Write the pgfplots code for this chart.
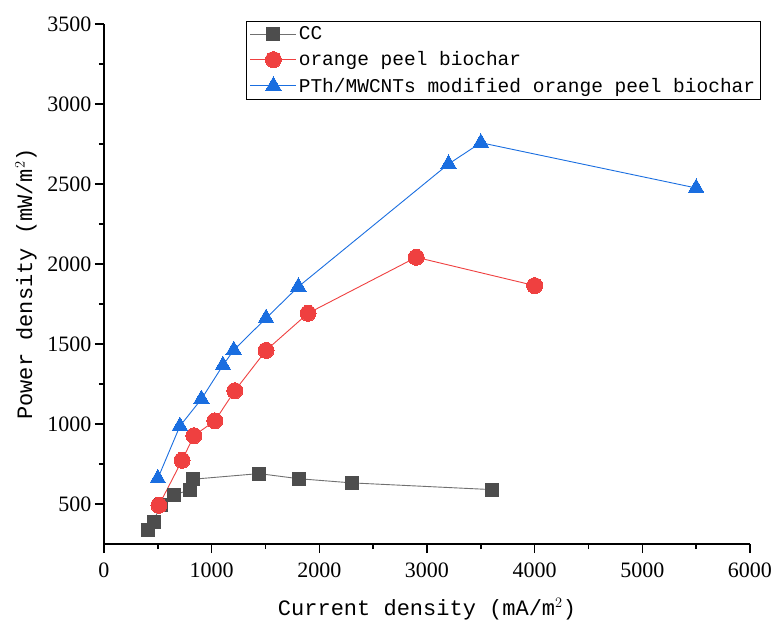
\documentclass[border=0pt]{standalone}
\usepackage{pgfplots}
\pgfplotsset{compat=1.18}
\usepackage{fontspec}
\setmainfont{Liberation Serif}
\newfontfamily\monofont{Liberation Mono}
\definecolor{ccgray}{HTML}{4D4D4D}
\definecolor{ccline}{HTML}{707070}
\definecolor{opred}{HTML}{EF4040}
\definecolor{ptblue}{HTML}{1A6EE0}
\begin{document}
\begin{tikzpicture}
\useasboundingbox (-104pt,-78pt) rectangle (668pt,544pt);
\begin{axis}[
  at={(0pt,0pt)}, anchor=south west,
  scale only axis,
  width=646pt, height=520pt,
  xmin=0, xmax=6000, ymin=250, ymax=3500,
  axis x line=bottom, axis y line=left,
  axis line style={-, line width=1.6pt},
  xtick={0,1000,...,6000},
  ytick={500,1000,...,3500},
  minor x tick num=1, minor y tick num=1,
  tick align=outside,
  major tick length=9pt, minor tick length=5pt,
  every tick/.style={line width=1.4pt, black},
  /pgf/number format/1000 sep={},
  /pgf/number format/assume math mode=true,
  ticklabel style={font=\fontsize{22}{24}\selectfont},
  xticklabel style={yshift=-6pt},
  xlabel={\monofont Current density (mA/m$^2$)},
  ylabel={\monofont Power density (mW/m$^2$)},
  label style={font=\fontsize{22}{24}\selectfont},
  xlabel style={yshift=-14pt},
  ylabel style={yshift=4pt},
  legend style={at={(rel axis cs:0.22,1.006)}, anchor=north west,
    font=\monofont\fontsize{19.5}{21}\selectfont, draw=black, line width=0.8pt,
    row sep=6.5pt, inner sep=3.5pt},
  legend cell align=left,
  legend image code/.code={%
    \draw[mark repeat=2, mark phase=2, line width=0.8pt]
      plot coordinates {(0pt,0pt)(23pt,0pt)(46pt,0pt)};},
]
\addplot[color=ccline, line width=0.9pt, mark=square*, mark size=6.5pt,
  mark options={fill=ccgray, draw=ccgray, line width=0pt}]
  coordinates {(410,340)(460,390)(525,495)(650,555)(800,590)(830,655)(1440,690)(1810,658)(2300,632)(3600,590)};
\addlegendentry{CC}
\addplot[color=opred, line width=0.9pt, mark=*, mark size=8pt,
  mark options={fill=opred, draw=opred, line width=0pt}]
  coordinates {(510,492)(725,773)(835,927)(1030,1020)(1215,1208)(1505,1460)(1895,1692)(2900,2042)(4000,1865)};
\addlegendentry{orange peel biochar}
\addplot[color=ptblue, line width=0.9pt, mark=triangle*, mark size=9pt,
  mark options={fill=ptblue, draw=ptblue, line width=0pt}]
  coordinates {(500,660)(705,987)(905,1156)(1105,1367)(1205,1462)(1505,1661)(1805,1858)(3200,2625)(3500,2758)(5500,2475)};
\addlegendentry{PTh/MWCNTs modified orange peel biochar}
\end{axis}
\end{tikzpicture}
\end{document}
